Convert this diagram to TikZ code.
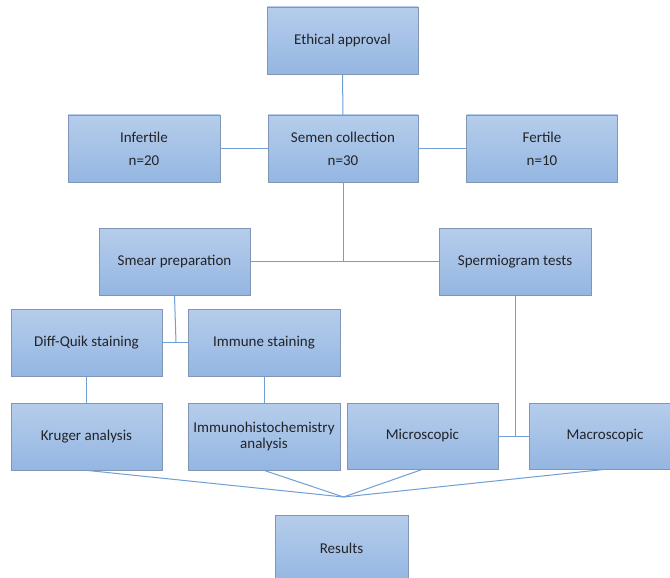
\documentclass[tikz,border=0pt]{standalone}
\usepackage{fontspec}
\setmainfont{Carlito}
\usetikzlibrary{shadings}
\definecolor{boxtop}{RGB}{182,205,235}
\definecolor{boxbot}{RGB}{148,182,226}
\definecolor{boxborder}{RGB}{128,150,180}
\definecolor{conn}{RGB}{112,158,214}
\definecolor{txt}{RGB}{35,35,40}
\tikzset{
  box/.style={rectangle, draw=boxborder, line width=0.7pt, top color=boxtop, bottom color=boxbot,
    minimum width=151pt, minimum height=67pt, inner sep=0pt, align=center,
    font=\fontsize{15}{16}\selectfont, text=txt},
  link/.style={draw=conn, line width=1pt}
}
\begin{document}
\begin{tikzpicture}[x=1pt,y=-1pt]
\path[use as bounding box] (0,0) rectangle (670,578);
\fill[white] (0,0) rectangle (670,578);
\clip (0,0) rectangle (670,578);
% nodes
\node[box] (eth) at (342.5,40.5) {Ethical approval};
\node[box, minimum width=152pt] (inf) at (144,148.5) {Infertile\\[7pt]n=20};
\node[box, minimum width=150pt] (sem) at (343,148.5) {Semen collection\\[7pt]n=30};
\node[box] (fer) at (542,148.5) {Fertile\\[7pt]n=10};
\node[box] (smear) at (174.5,261.5) {Smear preparation};
\node[box, minimum width=152pt] (sperm) at (515,261.5) {Spermiogram tests};
\node[box] (diff) at (86.5,342.5) {Diff-Quik staining};
\node[box, minimum width=152pt] (imm) at (264,342.5) {Immune staining};
\node[box] (kru) at (86.5,436.5) {Kruger analysis};
\node[box, minimum width=152pt] (ihc) at (264,436.5) {Immunohistochemistry\\analysis};
\node[box, minimum height=66pt] (mic) at (422.5,436) {Microscopic};
\node[box, minimum width=152pt, minimum height=66pt] (mac) at (605,436) {Macroscopic};
\node[box, minimum width=133pt] (res) at (341.5,548.5) {Results};
% junctions
\coordinate (j1) at (343,262);
\coordinate (j2) at (176,342.5);
\coordinate (j3) at (515,436);
\coordinate (j4) at (343.5,497);
% connectors
\draw[link] (eth.south) -- (sem.north);
\draw[link] (inf.east) -- (sem.west);
\draw[link] (sem.east) -- (fer.west);
\draw[link] (sem.south) -- (j1);
\draw[link] (smear.east) -- (sperm.west);
\draw[link] (smear.south) -- (j2);
\draw[link] (diff.east) -- (imm.west);
\draw[link] (diff.south) -- (kru.north);
\draw[link] (imm.south) -- (ihc.north);
\draw[link] (sperm.south) -- (j3);
\draw[link] (mic.east) -- (mac.west);
\draw[link] (kru.south) -- (j4);
\draw[link] (ihc.south) -- (j4);
\draw[link] (mic.south) -- (j4);
\draw[link] (mac.south) -- (j4);
\end{tikzpicture}
\end{document}
